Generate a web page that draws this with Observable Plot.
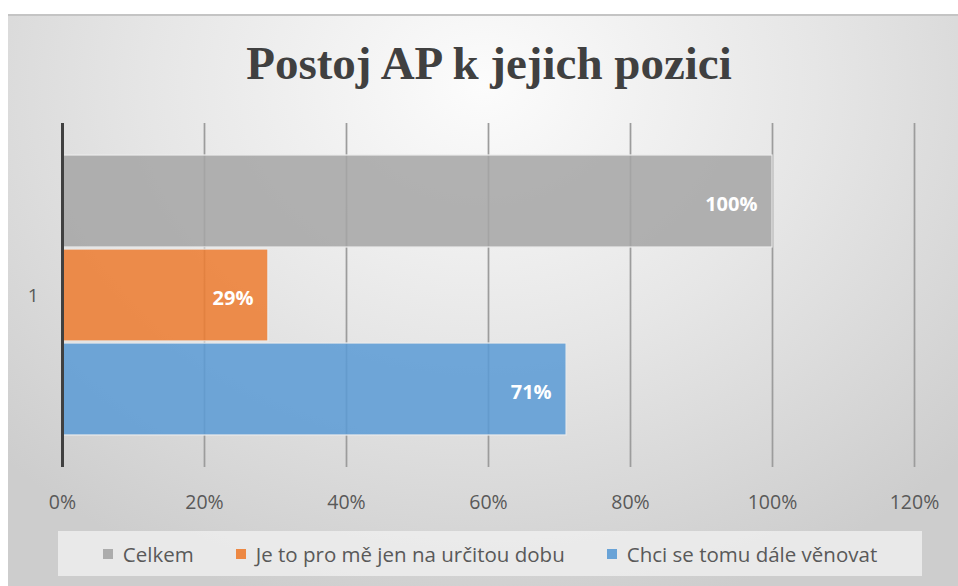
<!DOCTYPE html>
<html>
<head>
<meta charset="utf-8">
<script src="https://cdn.jsdelivr.net/npm/d3@7"></script>
<script src="https://cdn.jsdelivr.net/npm/@observablehq/plot@0.6"></script>
<style>
  html, body { margin: 0; padding: 0; background: #ffffff; overflow: hidden; }
  #wrap { position: relative; width: 958px; height: 586px; }
  #bg {
    position: absolute; left: 8px; top: 14px; width: 950px; height: 572px;
    border-top: 2px solid #c4c4c4;
    box-sizing: border-box;
    background: radial-gradient(ellipse 70% 95% at 50% 12%, #fcfcfc 0%, #e6e6e6 50%, #cdcdcd 100%);
  }
  #title {
    position: absolute; left: 20px; top: 40px; width: 938px; text-align: center;
    font-family: "Liberation Serif", "DejaVu Serif", serif; font-weight: bold;
    font-size: 47px; line-height: 47px; color: #404040; white-space: nowrap;
  }
  #chart { position: absolute; left: 0; top: 0; }
  #legend {
    position: absolute; left: 58px; top: 531px; width: 864px; height: 45px;
    background: rgba(242,242,242,0.75);
    display: flex; align-items: center; justify-content: center; gap: 42px;
    font-family: "Open Sans", "Noto Sans", sans-serif; font-size: 20.5px; color: #595959;
  }
  .item { display: flex; align-items: center; gap: 10px; white-space: nowrap; }
  .sw { width: 10px; height: 10px; display: inline-block; }
</style>
</head>
<body>
<div id="wrap">
  <div id="bg"></div>
  <div id="title"></div>
  <div id="chart"></div>
  <div id="legend"></div>
</div>
<script>
const chartTitle = "Postoj AP k jejich pozici";
const categories = ["1"];
const series = ["Celkem", "Je to pro mě jen na určitou dobu", "Chci se tomu dále věnovat"];
const values = [100, 29, 71];
const colors = ["#a5a5a5", "#ed7d31", "#5b9bd5"];
const ticks = [0, 20, 40, 60, 80, 100, 120];

const data = series.map((s, i) => ({cat: categories[0], series: s, value: values[i]}));

document.getElementById("title").textContent = chartTitle;

const plot = Plot.plot({
  width: 958,
  height: 586,
  marginLeft: 62,
  marginRight: 44,
  marginTop: 123,
  marginBottom: 119,
  style: {background: "transparent", fontFamily: "'Open Sans', 'Noto Sans', sans-serif"},
  x: {domain: [0, 120], axis: null},
  y: {domain: series, axis: null, paddingInner: 0.02, paddingOuter: 0.33},
  fy: {domain: categories, padding: 0, axis: null},
  color: {domain: series, range: colors},
  marks: [
    Plot.ruleX(ticks.filter(t => t > 0), {stroke: "#9c9c9c", strokeWidth: 1.75}),
    Plot.barX(data, {x: "value", y: "series", fy: "cat", fill: "series", fillOpacity: 0.86, stroke: "#ececec", strokeWidth: 1.2}),
    Plot.ruleX([0], {stroke: "#404040", strokeWidth: 3}),
    Plot.text(data, {x: "value", y: "series", fy: "cat", text: d => d.value + "%", textAnchor: "end", dx: -15, dy: 3, fill: "white", fontWeight: "bold", fontSize: 20}),
    Plot.axisX(ticks, {anchor: "bottom", tickSize: 0, tickPadding: 28, fontSize: 19.5, fill: "#595959", tickFormat: d => d + "%", label: null}),
    Plot.axisFy({anchor: "left", tickSize: 0, tickPadding: 24, fontSize: 19, fill: "#595959", label: null})
  ]
});
document.getElementById("chart").appendChild(plot);

const legend = document.getElementById("legend");
series.forEach((s, i) => {
  const item = document.createElement("div");
  item.className = "item";
  const sw = document.createElement("span");
  sw.className = "sw";
  sw.style.background = colors[i];
  sw.style.opacity = 0.9;
  const label = document.createElement("span");
  label.textContent = s;
  item.appendChild(sw);
  item.appendChild(label);
  legend.appendChild(item);
});
</script>
</body>
</html>
